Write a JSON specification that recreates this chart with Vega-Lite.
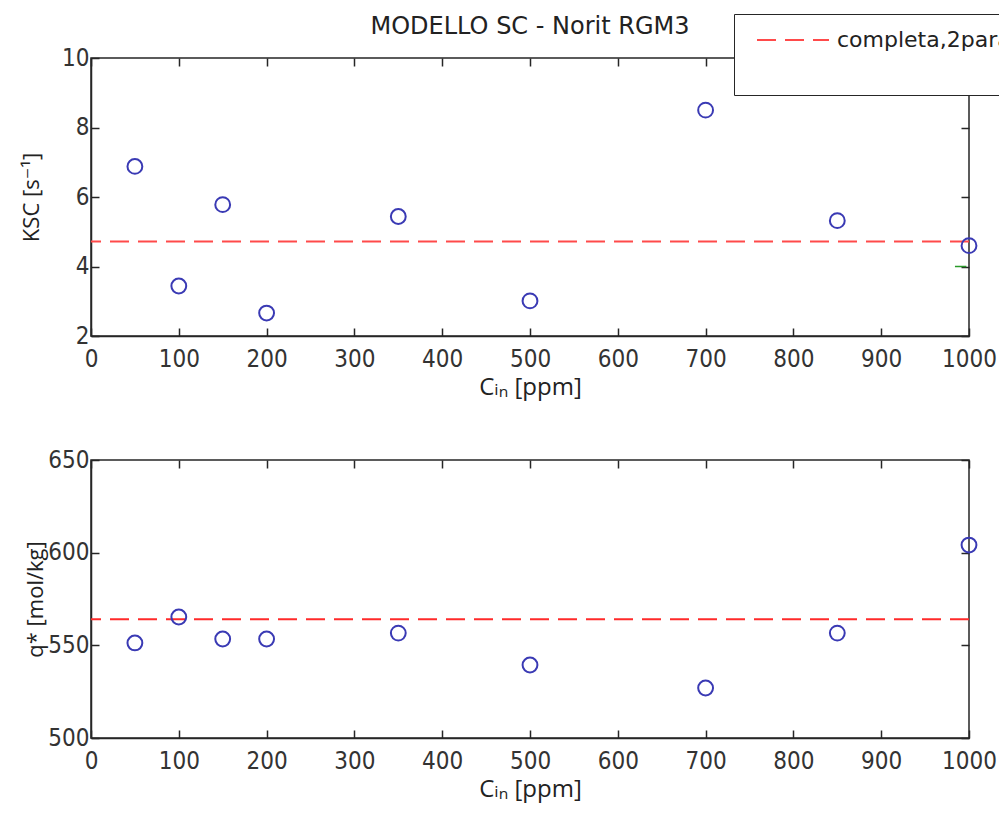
{
  "$schema": "https://vega.github.io/schema/vega-lite/v6.json",
  "autosize": {"type": "pad"},
  "padding": {"left": 19, "top": 13, "right": 0, "bottom": 10},
  "background": "white",
  "config": {
    "font": "DejaVu Sans Condensed, DejaVu Sans, sans-serif",
    "view": {"stroke": "#262626", "strokeWidth": 1.5},
    "axis": {
      "grid": false,
      "labelFlush": false,
      "domainColor": "#262626",
      "domainWidth": 1.5,
      "tickColor": "#262626",
      "tickWidth": 1.5,
      "tickSize": -8,
      "labelFontSize": 24,
      "labelColor": "#333333",
      "labelFont": "DejaVu Sans Condensed, DejaVu Sans, sans-serif",
      "titleFont": "Open Sans, DejaVu Sans, sans-serif",
      "titleFontSize": 22,
      "titleFontWeight": "normal",
      "titleColor": "#222222"
    },
    "title": {"font": "DejaVu Sans, sans-serif", "fontSize": 24, "fontWeight": "normal", "color": "#222222"}
  },
  "datasets": {
    "ksc": [
      {"cin": 50, "k": 6.88},
      {"cin": 100, "k": 3.44},
      {"cin": 150, "k": 5.78},
      {"cin": 200, "k": 2.66},
      {"cin": 350, "k": 5.44},
      {"cin": 500, "k": 3.01},
      {"cin": 700, "k": 8.5},
      {"cin": 850, "k": 5.32},
      {"cin": 1000, "k": 4.6}
    ],
    "qstar": [
      {"cin": 50, "q": 551.3},
      {"cin": 100, "q": 565.3},
      {"cin": 150, "q": 553.4},
      {"cin": 200, "q": 553.4},
      {"cin": 350, "q": 556.6},
      {"cin": 500, "q": 539.4},
      {"cin": 700, "q": 527.0},
      {"cin": 850, "q": 556.6},
      {"cin": 1000, "q": 604.1}
    ],
    "fitk": [{"k": 4.72, "s": "completa,2parametri"}],
    "fitq": [{"q": 564.1}],
    "green": [{"cin": 984, "k": 4.0}, {"cin": 997, "k": 4.0}]
  },
  "bounds": "flush",
  "spacing": 124,
  "vconcat": [
    {
      "width": 878,
      "height": 278,
      "title": {"text": "MODELLO SC - Norit RGM3", "offset": 7, "anchor": "middle"},
      "resolve": {"axis": {"x": "independent", "y": "independent"}},
      "layer": [
        {
          "data": {"name": "fitk"},
          "mark": {"type": "rule", "strokeWidth": 2, "strokeDash": [19, 9]},
          "encoding": {
            "y": {"field": "k", "type": "quantitative", "scale": {"domain": [2, 10], "nice": false},
              "axis": {"orient": "right", "labels": false, "title": null, "values": [2, 4, 6, 8, 10], "domain": false}},
            "color": {"field": "s", "type": "nominal",
              "scale": {"domain": ["completa,2parametri", " "], "range": ["#ff4a4a", "rgba(0,0,0,0)"]},
              "legend": {
                "orient": "none", "legendX": 643, "legendY": -44, "title": null,
                "strokeColor": "#262626", "fillColor": "white", "padding": 13,
                "symbolType": "M-3,0H3", "symbolStrokeWidth": 2, "symbolSize": 576,
                "symbolOffset": 33,
                "symbolDash": [19, 9], "labelFontSize": 22, "labelColor": "#222222",
                "labelFont": "DejaVu Sans, sans-serif",
                "labelOffset": 31, "rowPadding": 7, "labelLimit": 400
              }}
          }
        },
        {
          "data": {"name": "green"},
          "mark": {"type": "line", "color": "#2a9a2a", "strokeWidth": 1.5},
          "encoding": {
            "x": {"field": "cin", "type": "quantitative", "scale": {"domain": [0, 1000], "nice": false},
              "axis": {"orient": "top", "labels": false, "title": null, "values": [0, 100, 200, 300, 400, 500, 600, 700, 800, 900, 1000], "domain": false}},
            "y": {"field": "k", "type": "quantitative", "scale": {"domain": [2, 10], "nice": false}, "axis": null}
          }
        },
        {
          "data": {"name": "ksc"},
          "mark": {"type": "point", "shape": "circle", "filled": false, "size": 220, "strokeWidth": 2, "color": "#3a3ab4", "opacity": 1},
          "encoding": {
            "x": {"field": "cin", "type": "quantitative", "scale": {"domain": [0, 1000], "nice": false},
              "axis": {"orient": "bottom", "title": "Cᵢₙ [ppm]", "format": "d", "titleFontSize": 24, "values": [0, 100, 200, 300, 400, 500, 600, 700, 800, 900, 1000], "labelPadding": 19, "titlePadding": 4}},
            "y": {"field": "k", "type": "quantitative", "scale": {"domain": [2, 10], "nice": false},
              "axis": {"orient": "left", "title": "KSC [s⁻¹]", "values": [2, 4, 6, 8, 10], "labelPadding": 10, "titlePadding": 18}}
          }
        }
      ]
    },
    {
      "width": 878,
      "height": 278,
      "resolve": {"axis": {"x": "independent", "y": "independent"}},
      "layer": [
        {
          "data": {"name": "fitq"},
          "mark": {"type": "rule", "strokeWidth": 2, "strokeDash": [19, 9], "color": "#ff2a2a"},
          "encoding": {
            "y": {"field": "q", "type": "quantitative", "scale": {"domain": [500, 650], "nice": false},
              "axis": {"orient": "right", "labels": false, "title": null, "values": [500, 550, 600, 650], "domain": false}}
          }
        },
        {
          "data": {"name": "qstar"},
          "mark": {"type": "point", "shape": "circle", "filled": false, "size": 0, "strokeWidth": 0},
          "encoding": {
            "x": {"field": "cin", "type": "quantitative", "scale": {"domain": [0, 1000], "nice": false},
              "axis": {"orient": "top", "labels": false, "title": null, "values": [0, 100, 200, 300, 400, 500, 600, 700, 800, 900, 1000], "domain": false}},
            "y": {"field": "q", "type": "quantitative", "scale": {"domain": [500, 650], "nice": false}, "axis": null}
          }
        },
        {
          "data": {"name": "qstar"},
          "mark": {"type": "point", "shape": "circle", "filled": false, "size": 220, "strokeWidth": 2, "color": "#3a3ab4", "opacity": 1},
          "encoding": {
            "x": {"field": "cin", "type": "quantitative", "scale": {"domain": [0, 1000], "nice": false},
              "axis": {"orient": "bottom", "title": "Cᵢₙ [ppm]", "format": "d", "titleFontSize": 24, "values": [0, 100, 200, 300, 400, 500, 600, 700, 800, 900, 1000], "labelPadding": 19, "titlePadding": 4}},
            "y": {"field": "q", "type": "quantitative", "scale": {"domain": [500, 650], "nice": false},
              "axis": {"orient": "left", "title": "q* [mol/kg]", "values": [500, 550, 600, 650], "labelPadding": 10, "titlePadding": 0}}
          }
        }
      ]
    }
  ]
}
